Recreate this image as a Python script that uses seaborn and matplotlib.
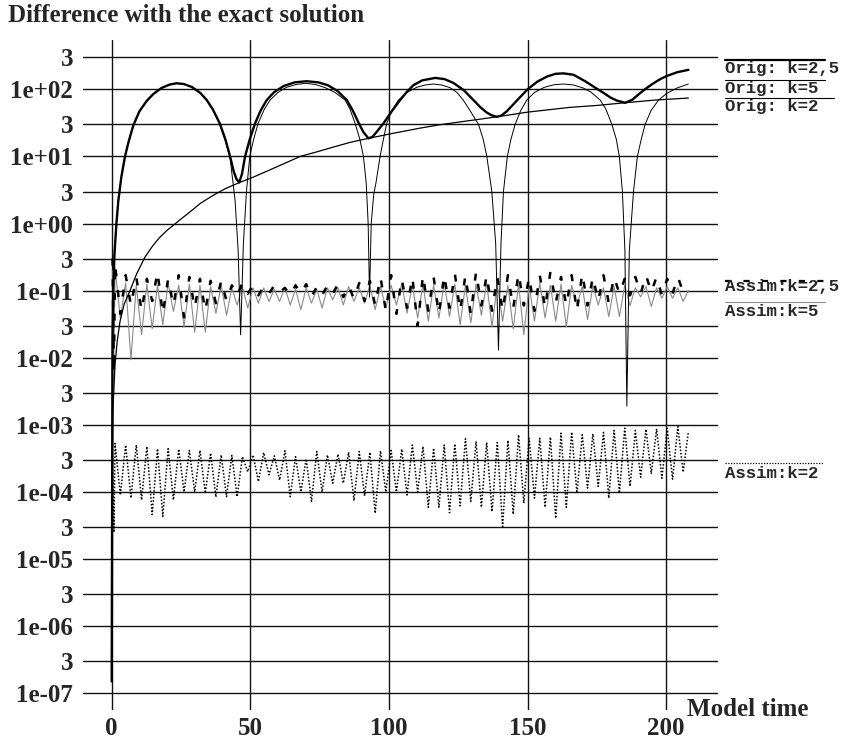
import numpy as np
import matplotlib
matplotlib.use("Agg")
import matplotlib.pyplot as plt
from matplotlib.ticker import NullLocator
from matplotlib.font_manager import FontProperties
import seaborn as sns

# --- данные ---

# Orig: k=2,5 (толстая сплошная)
orig25_t = [0, 0.3, 0.6, 1.0, 1.7, 2.4, 3.5, 4.8, 6.0, 7.8, 10, 12.6, 15, 18, 21, 23.4, 26,
            29, 32, 34.3, 36.5, 39, 41, 42.7, 44, 45, 46.0, 47.0, 48.1, 49.8, 51.7, 53.7,
            55.9, 58.5, 62, 66, 70.3, 74.5, 78, 81.5, 84.8, 87, 89, 90.8, 92.6, 94, 95.5,
            98, 101, 104, 106.5, 108.8, 112, 116.7, 120, 123.2, 127, 130.5, 133, 135.3,
            137, 138.9, 140.5, 142.5, 144.9, 147.5, 150, 153.5, 157, 160, 162.9, 166.5,
            169, 171.3, 174.5, 177.3, 180, 182.2, 185.2, 187.8, 190.6, 193, 195.4, 198,
            200.2, 204, 208]
orig25_v = [1.5e-7, 0.02, 0.12, 0.35, 1.0, 2.2, 5, 10, 16, 29, 47, 67, 85, 105, 118, 123, 120,
            108, 88, 69, 50, 31, 18, 10, 6, 4.6, 4.1, 5.5, 10, 18, 31, 48,
            69, 90, 112, 127, 132, 127, 115, 94, 69, 48, 32, 23, 18.6, 19.5, 23,
            31, 47, 69, 92, 115, 136, 148, 142, 125, 97, 69, 54, 45,
            41, 39, 40.5, 47, 60, 78, 100, 130, 155, 170, 173, 165,
            145, 128, 105, 89, 75, 68, 63, 70, 88, 105, 123, 143,
            158, 180, 195]

# Orig: k=5 (тонкая сплошная)
orig5_t = [0, 0.3, 0.6, 1.0, 1.7, 2.4, 3.5, 4.8, 6.0, 7.8, 10, 12.6, 15, 18, 21, 23.4, 26,
           29, 32, 34.3, 36.5, 39, 41, 42.7, 44.5, 45.6, 46.5, 47.5, 48.6, 49.8, 51.2,
           52.8, 55, 57.1, 60, 63, 66.5, 70, 73.5, 77, 80.5, 84.2, 86, 87.8, 89.5, 90.8,
           91.8, 92.5, 93.0, 93.6, 94.5, 95.3, 96.8, 98, 99.2, 101, 103.4, 106.5, 110,
           113, 116, 119, 122, 124.5, 126.8, 129, 132.3, 134, 135.3, 137.1, 138.5, 139.5,
           140.4, 141.3, 142.7, 144, 145.5, 147.5, 149.7, 152.5, 156, 159.5, 163, 166.5,
           170, 173, 176.2, 178.3, 180.4, 182, 183.1, 184.2, 185.1, 185.8, 186.7, 188.2,
           189.6, 191, 192.4, 194.5, 197.2, 200.2, 204, 208]
orig5_v = [1.5e-7, 0.02, 0.12, 0.35, 1.0, 2.2, 5, 10, 16, 29, 47, 67, 85, 105, 118, 123, 120,
           108, 88, 69, 50, 30, 17, 9.5, 2.2, 0.4, 0.022, 0.5, 3, 10, 18,
           31, 50, 69, 90, 107, 118, 123, 118, 106, 90, 69, 50, 31, 18, 10,
           4, 1.0, 0.08, 1.0, 2.7, 4, 10, 18, 31, 48, 69, 90, 107,
           116, 120, 116, 106, 90, 69, 50, 30, 18, 10, 3, 0.5, 0.013,
           0.5, 3, 10, 18, 30, 48, 69, 90, 107, 117, 120, 116,
           105, 90, 69, 50, 30, 18, 10, 3, 0.4, 0.0019, 0.4, 3,
           10, 18, 30, 48, 69, 87, 105, 120]

# Orig: k=2 (тонкая, плавная)
orig2_t = [0, 0.02, 0.1, 0.4, 1.2, 2, 3, 4.5, 6.6, 9, 12, 14.5, 17, 20, 23, 26, 29, 32,
           36.6, 41, 46, 51, 56, 62, 68, 74, 80, 86, 92.6, 101, 111, 118, 125, 132,
           138.9, 150, 165, 175, 185.2, 196, 208]
orig2_v = [1.5e-7, 1e-6, 3e-5, 1.5e-3, 7.9e-3, 0.0178, 0.0347, 0.063, 0.1, 0.178, 0.316,
           0.447, 0.603, 0.794, 1.0, 1.26, 1.58, 2.0, 2.63, 3.31, 4.07, 4.9, 6.03, 7.76,
           10, 11.7, 13.8, 16.2, 18.6, 21.9, 26.3, 29.5, 32.4, 35.5, 38.9, 45.7, 53.7,
           57.5, 63.1, 69.2, 74.1]

# Assim: общая сетка вывода (пик / провал по очереди)
assim_start_t = [0.3, 0.8]
assim_t_first = 1.2
assim_dt = 1.915

# Assim: k=2,5 (толстый пунктир)
a25_start = [0.3, 0.006]
a25_peaks = [0.25, 0.17, 0.16, 0.15, 0.19, 0.15, 0.17, 0.16, 0.15, 0.14, 0.14,
             0.12, 0.13, 0.12, 0.115, 0.12, 0.11, 0.12, 0.125, 0.115, 0.12, 0.125, 0.12, 0.13, 0.14,
             0.16, 0.17, 0.15, 0.16, 0.17, 0.16, 0.17, 0.18, 0.17, 0.19, 0.17,
             0.16, 0.17, 0.18, 0.16, 0.17, 0.19, 0.16, 0.17, 0.18, 0.16, 0.17,
             0.16, 0.15, 0.16, 0.17, 0.16, 0.15, 0.16]
a25_troughs = [0.045, 0.06, 0.05, 0.07, 0.045, 0.06, 0.04, 0.055, 0.05, 0.065, 0.07,
               0.085, 0.09, 0.085, 0.09, 0.095, 0.085, 0.09, 0.08, 0.085, 0.09, 0.08, 0.075, 0.07, 0.06,
               0.05, 0.045, 0.055, 0.03, 0.05, 0.045, 0.055, 0.05, 0.045, 0.06, 0.05,
               0.05, 0.055, 0.06, 0.05, 0.055, 0.065, 0.06, 0.05, 0.06, 0.07, 0.065,
               0.09, 0.085, 0.09, 0.095, 0.085, 0.09, 0.095]
a25_end = 0.11

# Assim: k=5 (тонкая серая)
a5_start = [0.2, 0.008]
a5_peaks = [0.22, 0.13, 0.12, 0.125, 0.12, 0.13, 0.12, 0.125, 0.12, 0.115,
            0.12, 0.11, 0.115, 0.11, 0.11, 0.105, 0.11, 0.105, 0.11, 0.105,
            0.11, 0.11, 0.115, 0.11, 0.12, 0.115, 0.12, 0.125, 0.12, 0.125,
            0.12, 0.13, 0.125, 0.12, 0.125, 0.13, 0.125, 0.12, 0.125, 0.12,
            0.13, 0.12, 0.125, 0.12, 0.115, 0.12, 0.11, 0.115, 0.12, 0.11,
            0.115, 0.11, 0.115, 0.11]
a5_troughs = [0.039, 0.0093, 0.022, 0.027, 0.031, 0.049, 0.029, 0.024, 0.024, 0.046,
              0.043, 0.061, 0.055, 0.065, 0.069, 0.069, 0.061, 0.052, 0.065, 0.055,
              0.073, 0.061, 0.069, 0.065, 0.052, 0.055, 0.061, 0.046, 0.039, 0.035,
              0.039, 0.041, 0.031, 0.033, 0.043, 0.029, 0.035, 0.027, 0.022, 0.035,
              0.039, 0.035, 0.029, 0.061, 0.037, 0.061, 0.041, 0.041, 0.06, 0.081,
              0.058, 0.077, 0.077, 0.069]
a5_end = 0.1

# Assim: k=2 (точки)
a2_start = [3.5e-4, 2.5e-5]
a2_peaks = [5.3e-4, 5.0e-4, 5.0e-4, 4.75e-4, 4.4e-4, 4.4e-4, 4.35e-4, 4.15e-4, 4.15e-4, 3.8e-4,
            3.55e-4, 3.5e-4, 3.35e-4, 3.55e-4, 3.85e-4, 3.45e-4, 4.1e-4, 3.35e-4, 3.1e-4, 4.0e-4,
            3.55e-4, 3.65e-4, 3.9e-4, 4.0e-4, 3.9e-4, 4.1e-4, 4.15e-4, 4.35e-4, 5.0e-4,
            4.75e-4, 4.5e-4, 5.0e-4, 5.2e-4, 6.2e-4, 5.65e-4, 5.45e-4, 5.45e-4, 5.85e-4, 7.1e-4,
            6.3e-4, 6.3e-4, 6.55e-4, 7.5e-4, 7.8e-4, 7.1e-4, 7.35e-4, 7.7e-4, 8.25e-4, 8.9e-4,
            8.25e-4, 8.6e-4, 8.7e-4, 8.9e-4, 9.4e-4]
a2_troughs = [9.0e-5, 8.1e-5, 7.6e-5, 4.6e-5, 4.3e-5, 7.6e-5, 1.0e-4, 1.0e-4, 9.6e-5, 8.4e-5,
              8.5e-5, 8.5e-5, 2.0e-4, 1.43e-4, 1.8e-4, 1.5e-4, 8.5e-5, 1.0e-4, 7.2e-5, 1.0e-4,
              1.35e-4, 1.35e-4, 7.4e-5, 8.7e-5, 4.8e-5, 1.0e-4, 1.0e-4, 9.0e-5, 1.0e-4,
              5.9e-5, 5.9e-5, 4.9e-5, 6.2e-5, 7.2e-5, 5.9e-5, 5.1e-5, 3.05e-5, 4.65e-5, 6.8e-5,
              8.1e-5, 5.9e-5, 4.05e-5, 5.9e-5, 9.6e-5, 1.14e-4, 1.21e-4, 8.1e-5, 9.6e-5, 1.21e-4,
              1.66e-4, 1.86e-4, 1.6e-4, 1.55e-4, 1.97e-4]
a2_end = 8.0e-4

# оси
xtick_vals = [0, 50, 100, 150, 200]
ytick_vals = [1e-7, 3e-7, 1e-6, 3e-6, 1e-5, 3e-5, 1e-4, 3e-4, 1e-3, 3e-3,
              1e-2, 3e-2, 1e-1, 3e-1, 1e0, 3e0, 1e1, 3e1, 1e2, 3e2]
ytick_labels = ['1e-07', '3', '1e-06', '3', '1e-05', '3', '1e-04', '3', '1e-03', '3',
                '1e-02', '3', '1e-01', '3', '1e+00', '3', '1e+01', '3', '1e+02', '3']


def assim_series(start, peaks, troughs, end):
    vals = np.empty(len(peaks) + len(troughs))
    vals[0::2] = peaks
    vals[1::2] = troughs
    vals = np.concatenate([start, vals, [end]])
    t = np.concatenate([assim_start_t,
                        assim_t_first + assim_dt * np.arange(len(vals) - len(start))])
    return t, vals


sns.set_style("white")
plt.rcParams['font.family'] = ['Liberation Serif', 'DejaVu Serif']

W, H = 842, 741
fig = plt.figure(figsize=(W / 100, H / 100), dpi=100)
ax = fig.add_axes([83 / W, 1 - 710 / H, (717.5 - 83) / W, (710 - 40) / H])

serif = dict(family='Liberation Serif', weight='bold', size=18)
mono = dict(family='Liberation Mono', weight='bold', size=12.5)

# сетка
for yv in ytick_vals:
    ax.axhline(yv, color='#111111', lw=1.0, zorder=1)
for xv in xtick_vals:
    ax.axvline(xv, color='#111111', lw=1.0, zorder=1)

t25, v25 = assim_series(a25_start, a25_peaks, a25_troughs, a25_end)
t5, v5 = assim_series(a5_start, a5_peaks, a5_troughs, a5_end)
t2, v2 = assim_series(a2_start, a2_peaks, a2_troughs, a2_end)

sns.lineplot(x=t5, y=v5, ax=ax, color='#8a8a8a', lw=0.8, sort=False, estimator=None, zorder=3)
sns.lineplot(x=t25, y=v25, ax=ax, color='black', lw=1.8, sort=False, estimator=None, zorder=4)
ax.lines[-1].set_dashes((2.8, 5.5))
sns.lineplot(x=t2, y=v2, ax=ax, color='black', lw=1.1, sort=False, estimator=None, zorder=3)
ax.lines[-1].set_dashes((1, 1.2))

sns.lineplot(x=orig2_t, y=orig2_v, ax=ax, color='black', lw=0.9, sort=False, estimator=None, zorder=5)
sns.lineplot(x=orig5_t, y=orig5_v, ax=ax, color='black', lw=0.7, sort=False, estimator=None, zorder=5)
sns.lineplot(x=orig25_t, y=orig25_v, ax=ax, color='black', lw=1.7, sort=False, estimator=None, zorder=6)

ax.set_yscale('log')
ax.set_xlim(-10.35, 218.5)
ax.set_ylim(10 ** -7.25, 10 ** 2.735)
ax.set_xticks(xtick_vals, labels=[str(v) for v in xtick_vals])
ax.set_yticks(ytick_vals, labels=ytick_labels)
ax.yaxis.set_minor_locator(NullLocator())
ax.tick_params(axis='y', length=0, pad=7)
ax.tick_params(axis='x', length=0, pad=5)
for lab in ax.get_xticklabels() + ax.get_yticklabels():
    lab.set_fontproperties(FontProperties(**serif))
ax.set_xlabel('')
ax.set_ylabel('')
for s in ax.spines.values():
    s.set_visible(False)

# подписи поверх в пикселях
ov = fig.add_axes([0, 0, 1, 1], zorder=10)
ov.set_xlim(0, W)
ov.set_ylim(H, 0)
ov.axis('off')
ov.patch.set_alpha(0)

ov.text(8, 16, 'Difference with the exact solution', ha='left', va='center', **serif)
ov.text(687, 709, 'Model time', ha='left', va='center', **serif)

legend_items = [
    ('Orig: k=2,5', 60, 69, 825, dict(color='black', lw=1.6)),
    ('Orig: k=5', 79.5, 88, 825, dict(color='black', lw=0.8)),
    ('Orig: k=2', 98, 106.5, 834, dict(color='black', lw=0.8)),
    ('Assim:k=2,5', 281, 286.5, 825, dict(color='black', lw=1.6, dashes=(2.8, 5.5))),
    ('Assim:k=5', 301.5, 312, 825, dict(color='#8a8a8a', lw=0.8)),
    ('Assim:k=2', 462.5, 474, 823, dict(color='black', lw=0.9, dashes=(1, 1.2))),
]
for label, yl, yt, xe, style in legend_items:
    ov.plot([725, xe], [yl, yl], **style)
    ov.text(725, yt, label, ha='left', va='center', **mono)

fig.savefig('out.png', dpi=100)
